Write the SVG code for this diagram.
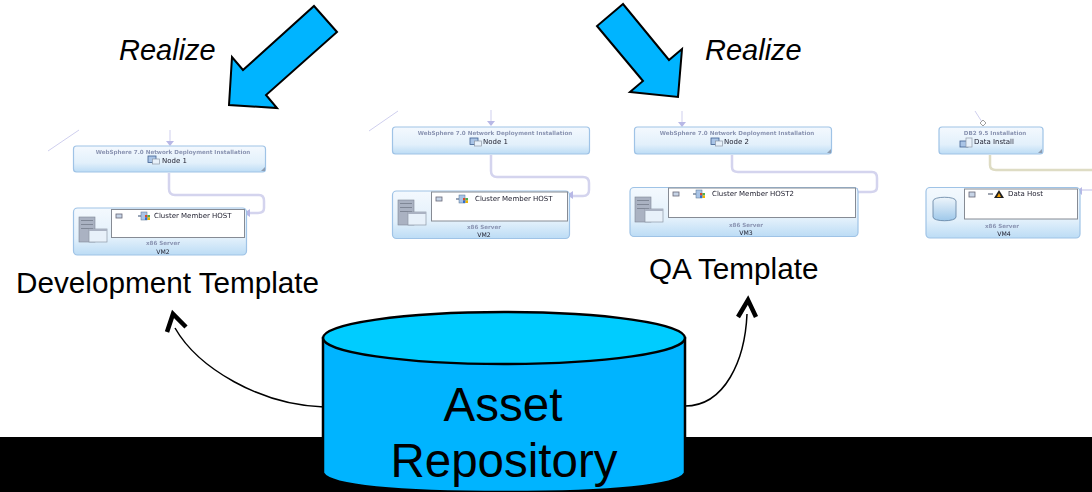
<svg xmlns="http://www.w3.org/2000/svg" width="1092" height="492" viewBox="0 0 1092 492">
<style>
text{font-family:"Liberation Sans",Arial,sans-serif}
.lbl{font-size:29.700px;fill:#000}
.it{font-size:29px;font-style:italic;fill:#000}
.big{font-size:47.500px;fill:#000;text-anchor:middle}
.t1,.t3,.t2,.t4{font-family:"DejaVu Sans",sans-serif}
.t1{font-size:5.600px;font-weight:bold;fill:#8a94b2;text-anchor:middle}
.t2{font-size:7px;fill:#1c1c2c}
.t3{font-size:5.600px;font-weight:bold;fill:#8a94b2;text-anchor:middle}
.t4{font-size:6.200px;fill:#1c1c2c;text-anchor:middle}
.box{fill:url(#g);stroke:#9fc3e6;stroke-width:1.200}
.inner{fill:#fff;stroke:#868b94;stroke-width:1}
.wire{fill:none;stroke:#d4d4ee;stroke-width:2.500}
.thin{fill:none;stroke:#cfcfee;stroke-width:1}
.tip{fill:#b8b8e6}
.bigarrow{fill:#00b4ff;stroke:#000;stroke-width:2;stroke-linejoin:miter}
.curve{fill:none;stroke:#000;stroke-width:1.500}
.head{fill:none;stroke:#000;stroke-width:4.500}
.srv{fill:#aab2c2;stroke:#7f8796;stroke-width:.6}
.win{fill:#e8f1fa;stroke:#8e97a5;stroke-width:.7}
.ico{fill:#a9c4e6;stroke:#3f5f8f;stroke-width:.8}
.cm{fill:#c7d4e6;stroke:#667;stroke-width:.8}
.corner{fill:#8d9db2}
</style>
<defs>
<linearGradient id="g" x1="0" y1="0" x2="0" y2="1"><stop offset="0" stop-color="#f4f9fe"/><stop offset=".65" stop-color="#e2f0fb"/><stop offset="1" stop-color="#bcdcf5"/></linearGradient>
<linearGradient id="can" x1="0" y1="0" x2="0" y2="1"><stop offset="0" stop-color="#eef5fb"/><stop offset="1" stop-color="#9ec8ea"/></linearGradient>
<filter id="soft" x="-5%" y="-5%" width="110%" height="110%"><feGaussianBlur stdDeviation="0.350"/></filter>
<g id="cluster"><rect x="0" y="3" width="4" height="2" fill="#9aa6b8"/><rect x="3" y="0" width="6" height="8" fill="#a9c4e6" stroke="#56708f" stroke-width=".5"/><rect x="7" y="3" width="2.500" height="2.500" fill="#d84a2a"/><rect x="9.500" y="3" width="2.500" height="2.500" fill="#4caf50"/><rect x="7" y="5.500" width="2.500" height="2.500" fill="#2f6fd0"/><rect x="9.500" y="5.500" width="2.500" height="2.500" fill="#f0b400"/></g>
<g id="nodeicon"><rect class="ico" x="0" y="0" width="8" height="6.500"/><rect class="win" x="4.500" y="3" width="7" height="5"/></g>
<g id="server"><rect class="srv" x="0" y="0" width="16" height="25"/><rect x="2" y="3" width="12" height="1" fill="#7f8796"/><rect x="2" y="7" width="12" height="1" fill="#7f8796"/><rect x="2" y="11" width="12" height="1" fill="#7f8796"/><rect class="win" x="10" y="12" width="18" height="13"/><rect x="10" y="12" width="18" height="2" fill="#aab2c2"/></g>
</defs>
<rect id="band" x="0" y="437" width="1092" height="55" fill="#000"/>

<g id="connectors">
<path class="curve" d="M324 407C260 405 198 368 175 328"/>
<path class="head" d="M167 332L173 314L186 327"/>
<path class="curve" d="M685 406C725 406 745 360 747 314"/>
<path class="head" d="M738 317L748 300L756 317"/>
<g filter="url(#soft)">
<path class="wire" d="M169 173V189Q169 195 175 195H259Q264 195 264 201V208Q264 213 258 213H246"/>
<path class="thin" d="M170 130V142"/><path class="tip" d="M166 141H174L170 146Z"/>
<path class="tip" d="M250 209V217L244 213Z"/>
<path class="thin" d="M48 151L79 130"/>
<path class="wire" d="M491 155V171Q491 177 497 177H583Q589 177 589 183V190Q589 196 583 196H572"/>
<path class="thin" d="M491 110V122"/><path class="tip" d="M487 121H495L491 126Z"/>
<path class="tip" d="M573 191V199L567 195Z"/>
<path class="thin" d="M369 131L398 111"/>
<path class="wire" d="M732 155V167Q732 172 738 172H872Q877 172 877 178V187Q877 192 871 192H858"/>
<path class="thin" d="M682 111V123"/><path class="tip" d="M678 122H686L682 127Z"/>
<path class="tip" d="M858 188V196L852 192Z"/>
<path d="M990 155V165Q990 170 996 170H1092" fill="none" stroke="#dedcc4" stroke-width="2.500"/>
<path d="M1092 190H1082" fill="none" stroke="#d4d4ee" stroke-width="1.500"/>
<path class="thin" d="M975 111L982 122"/>
<path d="M983 120L986 123L983 126L980 123Z" fill="#fff" stroke="#888" stroke-width=".8"/>
<path class="tip" d="M1082 187V195L1077 191Z"/>
</g>
</g>

<g id="arrow-left"><polygon class="bigarrow" points="314,6 337,32 266,95 277,108 229,105 232,57 243,70"/></g>
<g id="arrow-right"><polygon class="bigarrow" points="623,4 597,26 643,81 630,92 678,97 682,49 669,60"/></g>

<g id="label-realize-1"><text class="it" x="119" y="60">Realize</text></g>
<g id="label-realize-2"><text class="it" x="705" y="60">Realize</text></g>

<g id="template-dev" filter="url(#soft)">
<rect class="box" x="73.500" y="146" width="192" height="26" rx="3"/>
<path class="corner" d="M265 167V171H261Z"/>
<text class="t1" x="173" y="153.500">WebSphere 7.0 Network Deployment Installation</text>
<use href="#nodeicon" x="148" y="156"/>
<text class="t2" x="162" y="162.500">Node 1</text>
<rect class="box" x="73.500" y="208" width="173" height="47" rx="4"/>
<rect class="inner" x="111.500" y="209.500" width="133" height="28"/>
<use href="#server" x="79" y="217"/>
<rect class="cm" x="116" y="214" width="6" height="4"/>
<use href="#cluster" x="138" y="212"/>
<text class="t2" x="154" y="217.500">Cluster Member HOST</text>
<text class="t3" x="163" y="245">x86 Server</text><text class="t4" x="163" y="254">VM2</text>
</g>

<g id="template-mid" filter="url(#soft)">
<rect class="box" x="392.500" y="127" width="197" height="27" rx="3"/>
<text class="t1" x="495" y="135">WebSphere 7.0 Network Deployment Installation</text>
<use href="#nodeicon" x="470" y="138"/>
<text class="t2" x="483" y="144">Node 1</text>
<rect class="box" x="392.500" y="191" width="177" height="47.500" rx="4"/>
<rect class="inner" x="431.500" y="192" width="136" height="29"/>
<use href="#server" x="398" y="200"/>
<rect class="cm" x="436" y="197" width="6" height="4"/>
<use href="#cluster" x="456" y="195"/>
<text class="t2" x="475" y="200.500">Cluster Member HOST</text>
<text class="t3" x="484" y="229">x86 Server</text><text class="t4" x="484" y="237">VM2</text>
</g>

<g id="template-qa" filter="url(#soft)">
<rect class="box" x="634.500" y="127" width="197" height="27" rx="3"/>
<path class="corner" d="M831 149V153H827Z"/>
<text class="t1" x="737" y="135">WebSphere 7.0 Network Deployment Installation</text>
<use href="#nodeicon" x="711" y="138"/>
<text class="t2" x="724" y="144">Node 2</text>
<rect class="box" x="630" y="187.500" width="228" height="49" rx="4"/>
<rect class="inner" x="668.500" y="188" width="187" height="29.500"/>
<use href="#server" x="635" y="197"/>
<rect class="cm" x="673" y="192" width="6" height="4"/>
<use href="#cluster" x="693" y="190"/>
<text class="t2" x="712" y="196">Cluster Member HOST2</text>
<text class="t3" x="746" y="227">x86 Server</text><text class="t4" x="746" y="235">VM3</text>
</g>

<g id="template-db" filter="url(#soft)">
<rect class="box" x="939" y="127" width="104" height="27" rx="3"/>
<path class="corner" d="M1042 149V153H1038Z"/>
<text class="t1" x="995" y="135">DB2 9.5 Installation</text>
<rect class="ico" x="960" y="141" width="8" height="6"/><rect class="win" x="966" y="138" width="6" height="9"/>
<text class="t2" x="974" y="144">Data Install</text>
<rect class="box" x="926" y="187.500" width="154" height="50.500" rx="4"/>
<rect class="inner" x="964.500" y="189" width="113" height="30"/>
<path d="M933 201C933 196 956 196 956 201V217C956 222 933 222 933 217Z" fill="url(#can)" stroke="#5f7f9f" stroke-width=".8"/>
<rect class="cm" x="969" y="192" width="6" height="5"/>
<path d="M988 194H993" stroke="#7f8796" stroke-width="1.500"/>
<path d="M994 198L999 190L1004 198Z" fill="#222"/><path d="M997 197L999 193L1001 197Z" fill="#f4a000"/>
<text class="t2" x="1008" y="196">Data Host</text>
<text class="t3" x="1002" y="228">x86 Server</text><text class="t4" x="1004" y="236">VM4</text>
</g>

<g id="label-dev"><text class="lbl" x="16" y="293">Development Template</text></g>
<g id="label-qa"><text class="lbl" x="649" y="279">QA Template</text></g>

<g id="repository">
<path d="M323 338V473C330 486 398 492 504 492C610 492 678 486 685 473V338Z" fill="#00b4ff" stroke="#000" stroke-width="2.500"/>
<ellipse cx="504" cy="338" rx="181" ry="26" fill="#00ccff" stroke="#000" stroke-width="2.500"/>
<text class="big" x="503" y="421">Asset</text>
<text class="big" x="504" y="477">Repository</text>
</g>
</svg>
